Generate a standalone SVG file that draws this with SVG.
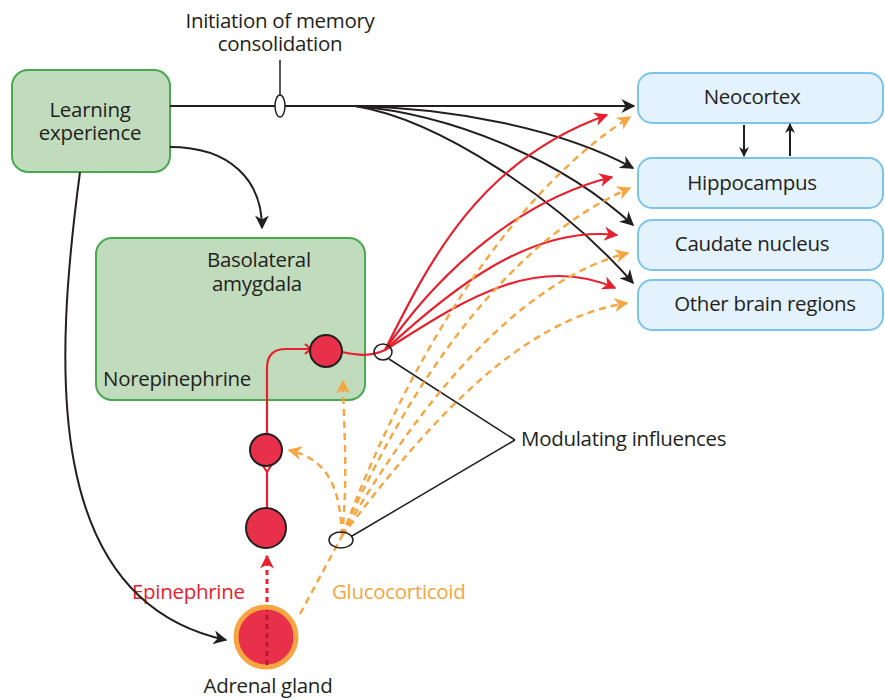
<svg xmlns="http://www.w3.org/2000/svg" width="885" height="700" viewBox="0 0 885 700">
<defs>
<style>
text{font-family:"Open Sans","Liberation Sans",sans-serif;font-size:20.5px;fill:#231f20;letter-spacing:-0.3px}
.green{fill:#c1dcbd;stroke:#4aa851;stroke-width:2}
.blue{fill:#e3f2fc;stroke:#7dc4ea;stroke-width:2}
.blk{fill:none;stroke:#231f20;stroke-width:2}
.thin{fill:none;stroke:#231f20;stroke-width:1.5}
.red{fill:none;stroke:#e8202e;stroke-width:2.2}
.org{fill:none;stroke:#f7a540;stroke-width:2.4;stroke-dasharray:7 5}
.neuron{fill:#e8304a;stroke:#231f20;stroke-width:2}
</style>
<marker id="ab" viewBox="0 0 10 10" refX="9" refY="5" markerWidth="10" markerHeight="10" orient="auto" markerUnits="userSpaceOnUse"><path d="M0,0 L10,5 L0,10 L3,5 z" fill="#231f20"/></marker>
<marker id="abk" viewBox="0 0 10 10" refX="9" refY="5" markerWidth="14" markerHeight="14" orient="auto" markerUnits="userSpaceOnUse"><path d="M0,0 L10,5 L0,10 L3,5 z" fill="#231f20"/></marker>
<marker id="ar" viewBox="0 0 10 10" refX="9" refY="5" markerWidth="14" markerHeight="14" orient="auto" markerUnits="userSpaceOnUse"><path d="M0,0 L10,5 L0,10 L3,5 z" fill="#e8202e"/></marker>
<marker id="ao" viewBox="0 0 10 10" refX="9" refY="5" markerWidth="14" markerHeight="14" orient="auto" markerUnits="userSpaceOnUse"><path d="M0,0 L10,5 L0,10 L3,5 z" fill="#f7a540"/></marker>
</defs>

<g id="learning">
<rect class="green" x="12" y="70" width="158" height="102" rx="16"/>
<text x="90" y="117" text-anchor="middle">Learning<tspan x="90" dy="23">experience</tspan></text>
</g>
<g id="amygdala">
<rect class="green" x="96" y="238" width="269" height="162" rx="16"/>
<text x="207" y="267">Basolateral<tspan x="212" dy="24">amygdala</tspan></text>
<text x="103" y="386">Norepinephrine</text>
</g>
<g id="neocortex"><rect class="blue" x="638" y="73" width="245" height="50" rx="14"/><text x="752" y="104" text-anchor="middle">Neocortex</text></g>
<g id="hippocampus"><rect class="blue" x="638" y="158" width="245" height="50" rx="14"/><text x="752" y="190" text-anchor="middle">Hippocampus</text></g>
<g id="caudate"><rect class="blue" x="638" y="220" width="245" height="50" rx="14"/><text x="752" y="251" text-anchor="middle">Caudate nucleus</text></g>
<g id="other"><rect class="blue" x="638" y="280" width="245" height="50" rx="14"/><text x="765" y="311" text-anchor="middle">Other brain regions</text></g>

<g id="labels">
<text x="280" y="28" text-anchor="middle">Initiation of memory<tspan x="280" dy="23">consolidation</tspan></text>
<text x="521" y="446">Modulating influences</text>
<text x="132" y="599" style="fill:#e8202e">Epinephrine</text>
<text x="332" y="599" style="fill:#f7a540">Glucocorticoid</text>
<text x="268" y="693" text-anchor="middle">Adrenal gland</text>
</g>

<g id="connectors">
<path class="blk" d="M170,106 L634,106" marker-end="url(#abk)"/>
<path class="blk" d="M355,106 C450,108 560,128 633,168" marker-end="url(#abk)"/>
<path class="blk" d="M355,106 C450,114 560,158 633,225" marker-end="url(#abk)"/>
<path class="blk" d="M355,106 C440,120 560,200 633,283" marker-end="url(#abk)"/>
<path class="blk" d="M744,125 L744,156" marker-end="url(#ab)"/>
<path class="blk" d="M790,156 L790,124" marker-end="url(#ab)"/>
<path class="blk" d="M170,147 C230,147 262,180 262,228" marker-end="url(#abk)"/>
<path class="blk" d="M80,172 C55,360 40,600 226,640" marker-end="url(#abk)"/>
<line class="thin" x1="280" y1="60" x2="280" y2="95"/>
<line class="thin" x1="389" y1="359" x2="515" y2="440"/>
<line class="thin" x1="352" y1="536" x2="515" y2="440"/>
<path class="red" d="M385,350 C430,260 480,160 607,115" marker-end="url(#ar)"/>
<path class="red" d="M385,350 C440,270 520,200 612,177" marker-end="url(#ar)"/>
<path class="red" d="M385,350 C450,290 530,225 617,235" marker-end="url(#ar)"/>
<path class="red" d="M385,350 C450,310 530,250 615,288" marker-end="url(#ar)"/>
<path class="red" d="M342,352 C360,356 372,356 385,350"/>
<path class="red" d="M267,434 L267,368 Q267,349 286,349 L309,349"/>
<path class="red" d="M305,344 L311,349 L305,354"/>
<path class="red" d="M267,508 L267,472"/>
<path class="red" d="M262,464 L267,472 L272,464"/>
<path d="M267,665 L267,556" fill="none" stroke="#e8202e" stroke-width="3" stroke-dasharray="5 4" marker-end="url(#ar)"/>
<path class="org" d="M300,614 L342,536"/>
<path class="org" d="M342,536 C400,380 500,200 630,117" marker-end="url(#ao)"/>
<path class="org" d="M342,536 C410,380 510,240 630,188" marker-end="url(#ao)"/>
<path class="org" d="M342,536 C420,400 520,280 628,253" marker-end="url(#ao)"/>
<path class="org" d="M342,536 C430,420 520,320 627,303" marker-end="url(#ao)"/>
<path class="org" d="M342,536 C348,480 344,430 343,381" marker-end="url(#ao)"/>
<path class="org" d="M342,536 C340,490 330,460 289,450" marker-end="url(#ao)"/>
</g>

<g id="neurons">
<ellipse cx="280" cy="106" rx="5" ry="11" fill="#fff" stroke="#231f20" stroke-width="1.5"/>
<ellipse cx="383" cy="352" rx="9" ry="8" fill="none" stroke="#231f20" stroke-width="1.5"/>
<ellipse cx="341" cy="540" rx="12" ry="8" fill="none" stroke="#231f20" stroke-width="1.5"/>
<circle class="neuron" cx="326" cy="351" r="16"/>
<circle class="neuron" cx="266" cy="450" r="16"/>
<circle class="neuron" cx="266" cy="528" r="20"/>
</g>
<g id="adrenal">
<circle cx="266" cy="637" r="30" fill="#e8304a" stroke="#f7a540" stroke-width="5"/>
<path d="M267,665 L267,610" fill="none" stroke="#b81828" stroke-width="3" stroke-dasharray="5 4"/>
</g>
</svg>
